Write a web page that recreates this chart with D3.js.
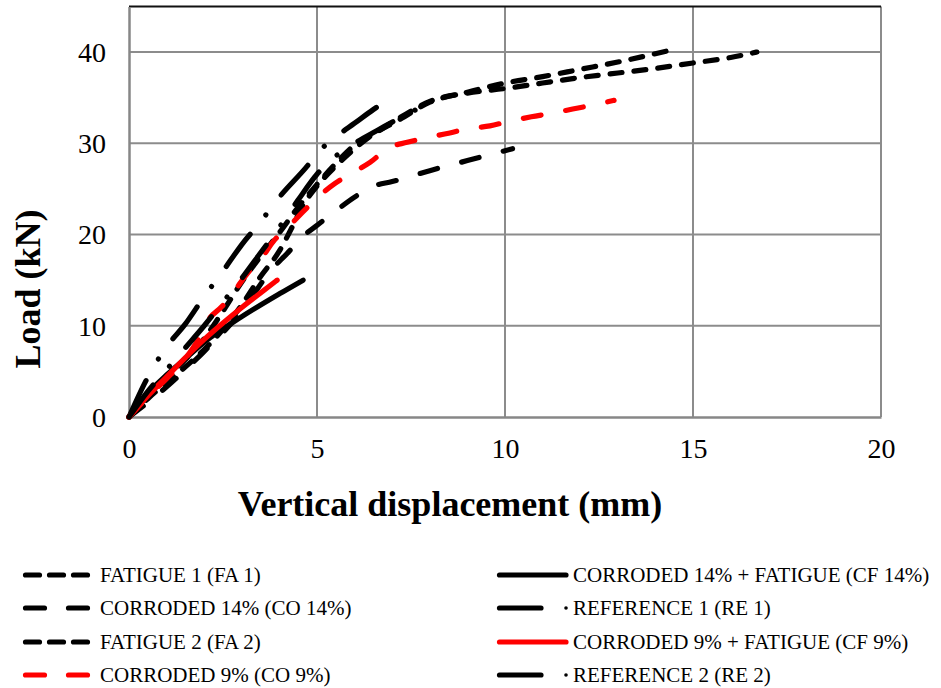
<!DOCTYPE html>
<html>
<head>
<meta charset="utf-8">
<script src="https://cdn.jsdelivr.net/npm/d3@7"></script>
<style>
  html, body { margin: 0; padding: 0; background: #fff; }
  svg { display: block; }
  text { font-family: "Liberation Serif", "Times New Roman", serif; fill: #000; }
</style>
</head>
<body>
<svg id="chart" width="941" height="688"></svg>
<script>
// ---------- data (displacement mm, load kN) ----------
const xTicks = [0, 5, 10, 15, 20];
const yTicks = [0, 10, 20, 30, 40];

const fa1 = [[0,0],[0.5,2.3],[1,4.3],[1.5,6.3],[2,8.6],[2.5,11.6],[3,14.8],[3.5,17.6],[4,20.2],[4.5,23],[5,25.5],[5.5,27.8],[6,29.8],[6.5,31],[7.2,32.8],[8,34.6],[9,35.5],[10,36],[11,36.6],[12,37.2],[13,37.7],[14,38.2],[15,38.8],[16,39.4],[16.7,40]];
const cf14 = [[0,0],[0.5,2.6],[1,4.6],[1.5,6.4],[2,8.2],[3,11],[4,13.5],[4.63,15]];
const co14 = [[0,0],[1,3.3],[2,7.2],[3,11.6],[3.8,16.2],[4.2,17.9],[4.6,19.7],[5.03,21.1],[5.5,22.6],[6,24.1],[6.5,25.3],[7,25.8],[8,27],[9,28.1],[10.2,29.4]];
const re1 = [[0,0],[0.48,4.2],[1,7.7],[1.5,10.2],[2,13.2],[2.5,16],[3,18.9],[3.5,21.4],[4,24.1],[4.7,27.3],[5.1,29.3],[5.5,30.7],[6,32.2],[6.5,33.7],[7.02,35.1]];
const fa2 = [[0,0],[0.5,2],[1,3.8],[1.5,5.5],[2,7.4],[2.5,9.6],[3,12.3],[3.5,15.4],[4,18.2],[4.3,20.5],[4.6,23],[5,25.3],[5.5,27.5],[6,29.4],[6.5,31],[7.2,32.6],[8,34.5],[9,35.6],[10,36.6],[11,37.3],[12,38.1],[13,38.9],[14.3,40.1]];
const cf9 = [[0,0],[0.5,2.3],[1,4.4],[1.5,6.5],[2,8.5],[2.5,10.3],[3,12],[3.5,13.6],[3.94,15]];
const co9 = [[0,0],[0.5,2.2],[1,4.2],[1.5,6.4],[1.8,8.2],[2.1,10.6],[2.47,12.1],[2.82,13.9],[3.16,15.8],[3.54,17.5],[3.83,19.2],[4.28,21],[4.63,22.5],[5.08,24.3],[5.48,25.6],[5.96,26.8],[6.41,27.9],[6.9,29.5],[7.4,30.1],[8,30.7],[8.5,31.1],[9,31.6],[9.6,31.9],[10.1,32.4],[10.7,32.9],[11.25,33.3],[11.8,33.75],[12.35,34.2],[12.9,34.7]];
const re2 = [[0,0],[0.5,2.8],[1,5.2],[1.5,7.6],[2,10],[2.5,12.6],[3,15.2],[3.5,18],[4,20.8],[4.5,23.8],[5,26.6],[5.5,28.6],[6,30],[6.6,31.4],[7.3,33],[8,34.4]];

const seriesNames = ["FATIGUE 1 (FA 1)", "CORRODED 14% + FATIGUE (CF 14%)", "CORRODED 14% (CO 14%)", "REFERENCE 1 (RE 1)",
                     "FATIGUE 2 (FA 2)", "CORRODED 9% + FATIGUE (CF 9%)", "CORRODED 9% (CO 9%)", "REFERENCE 2 (RE 2)"];
const seriesData = [fa1, cf14, co14, re1, fa2, cf9, co9, re2];

// ---------- styles ----------
const LW = 5.2;
const dashStyles = {
  short: "12,12",
  long: "18,25",
  dashdot: "40,25,0.01,25",
  solid: null
};
const styleOf = ["short", "solid", "long", "dashdot", "short", "solid", "long", "dashdot"];
const colorOf = ["#000", "#000", "#000", "#000", "#000", "#ff0000", "#ff0000", "#000"];

const svg = d3.select("#chart");
const L = 129, R = 881, T = 6.4, B = 417;
const x = d3.scaleLinear().domain([0, 20]).range([L, R]);
const y = d3.scaleLinear().domain([0, 45]).range([B, T]);

const grid = svg.append("g");
grid.selectAll("line.v").data(xTicks.slice(1)).join("line")
  .attr("x1", d => x(d)).attr("x2", d => x(d))
  .attr("y1", y(45)).attr("y2", y(0))
  .attr("stroke", "#8c8c8c").attr("stroke-width", 2);
grid.selectAll("line.h").data(yTicks.slice(1)).join("line")
  .attr("x1", x(0)).attr("x2", x(20))
  .attr("y1", d => y(d)).attr("y2", d => y(d))
  .attr("stroke", "#8c8c8c").attr("stroke-width", 2);
grid.append("line").attr("x1", x(0)).attr("x2", x(20)).attr("y1", y(45)).attr("y2", y(45))
  .attr("stroke", "#111").attr("stroke-width", 2);

// axes
const xAxis = d3.axisBottom(x).tickValues(xTicks).tickSize(0).tickPadding(0).tickFormat(d3.format("d"));
const yAxis = d3.axisLeft(y).tickValues(yTicks).tickSize(0).tickPadding(0).tickFormat(d3.format("d"));
const gx = svg.append("g").attr("transform", `translate(0,${B})`).call(xAxis);
gx.select(".domain").attr("stroke", "#878787").attr("stroke-width", 2.5);
gx.selectAll("text").attr("font-size", 28).attr("y", 41).attr("dy", 0)
  .style("font-family", '"Liberation Serif", "Times New Roman", serif').attr("fill", "#000");
const gy = svg.append("g").attr("transform", `translate(${L},0)`).call(yAxis);
gy.select(".domain").attr("stroke", "#878787").attr("stroke-width", 2.5);
gy.selectAll("text").attr("font-size", 28).attr("x", -23).attr("dy", "0.33em")
  .style("font-family", '"Liberation Serif", "Times New Roman", serif').attr("fill", "#000");

// axis titles
svg.append("text").attr("x", 450).attr("y", 516).attr("text-anchor", "middle")
  .attr("font-size", 36).attr("font-weight", "bold").text("Vertical displacement (mm)");
svg.append("text").attr("transform", "translate(40,289) rotate(-90)").attr("text-anchor", "middle")
  .attr("font-size", 36).attr("font-weight", "bold").text("Load (kN)");

// series lines
const line = d3.line().x(d => x(d[0])).y(d => y(d[1])).curve(d3.curveMonotoneX);
const plot = svg.append("g");
seriesData.forEach((data, i) => {
  const p = plot.append("path").datum(data)
    .attr("d", line)
    .attr("fill", "none")
    .attr("stroke", colorOf[i])
    .attr("stroke-width", LW)
    .attr("stroke-linecap", "round")
    .attr("stroke-linejoin", "round");
  if (dashStyles[styleOf[i]]) p.attr("stroke-dasharray", dashStyles[styleOf[i]]);
});

// legend
const rowsBase = [582, 615, 649, 682];
const legendItems = [
  {s: 0, col: 0, row: 0}, {s: 2, col: 0, row: 1}, {s: 4, col: 0, row: 2}, {s: 6, col: 0, row: 3},
  {s: 1, col: 1, row: 0}, {s: 3, col: 1, row: 1}, {s: 5, col: 1, row: 2}, {s: 7, col: 1, row: 3}
];
const colX = [{x1: 25.5, x2: 88, tx: 100}, {x1: 499.5, x2: 566, tx: 573}];
const lg = svg.append("g");
legendItems.forEach(it => {
  const g = colX[it.col];
  const yy = rowsBase[it.row] - 7;
  const st = styleOf[it.s];
  const l = lg.append("line")
    .attr("x1", g.x1).attr("y1", yy).attr("y2", yy)
    .attr("stroke", colorOf[it.s]).attr("stroke-width", LW).attr("stroke-linecap", "round");
  if (st === "solid") l.attr("x2", g.x2);
  if (st === "short") l.attr("x2", 88).attr("stroke-dasharray", "14,10");
  if (st === "long") l.attr("x2", 88).attr("stroke-dasharray", "19,24");
  if (st === "dashdot") {
    l.attr("x2", 541);
    lg.append("circle").attr("cx", 566).attr("cy", yy).attr("r", 1.8).attr("fill", colorOf[it.s]);
  }
  lg.append("text").attr("x", g.tx).attr("y", rowsBase[it.row]).attr("font-size", 21)
    .text(seriesNames[it.s]);
});
</script>
</body>
</html>
